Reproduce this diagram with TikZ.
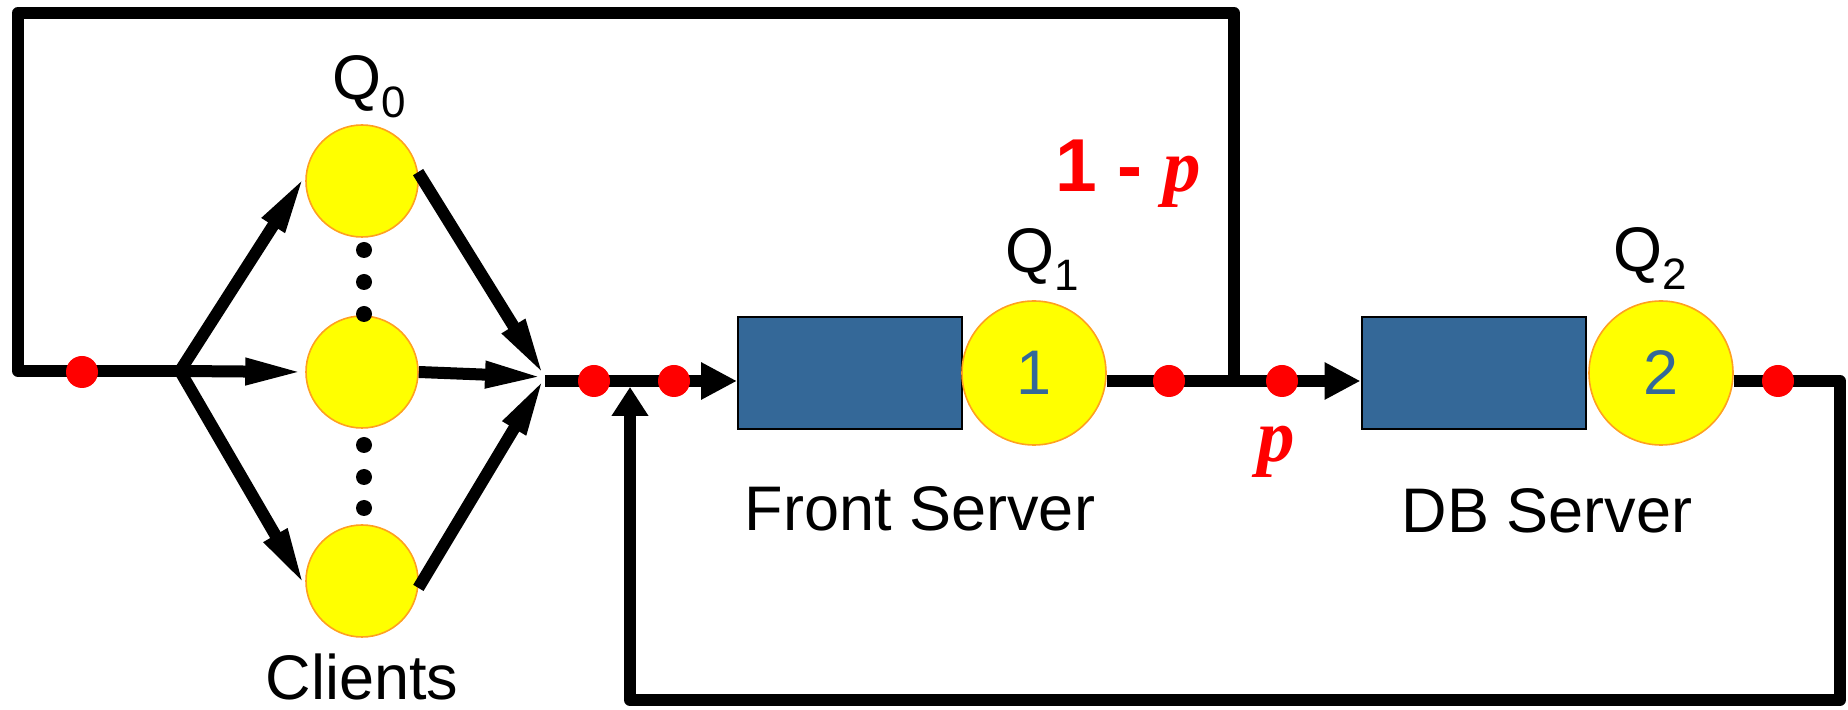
\documentclass[tikz,border=0pt]{standalone}
\usepackage{fontspec}
\setmainfont{Liberation Sans}
\newfontfamily\timesf{Liberation Serif}
\usetikzlibrary{arrows.meta,calc}
\definecolor{qyellow}{HTML}{FFFF00}
\definecolor{qorange}{HTML}{FFA020}
\definecolor{qblue}{HTML}{346898}
\definecolor{qred}{HTML}{FF0000}
\newcommand\qsubs[1]{\raisebox{-9pt}{\fontsize{22}{22}\selectfont #1}}
\begin{document}
\begin{tikzpicture}[x=0.5pt,y=-0.5pt,
  wire/.style={line width=6pt, line join=round},
  carr/.style={wire,-{Triangle[length=30pt,width=12pt]}},
  barr/.style={wire,-{Triangle[length=18pt,width=17.5pt]}},
  uarr/.style={wire,-{Triangle[length=14.5pt,width=17.5pt]}},
  client/.style={circle,fill=qyellow,draw=qorange,line width=0.8pt,minimum size=56pt,inner sep=0pt},
  server/.style={circle,fill=qyellow,draw=qorange,line width=0.8pt,minimum size=72pt,inner sep=0pt,font=\fontsize{31.5}{31.5}\selectfont,text=qblue},
  queue/.style={rectangle,fill=qblue,draw=black,line width=1pt,minimum width=112pt,minimum height=56pt,inner sep=0pt},
  rdot/.style={circle,fill=qred,minimum size=16pt,inner sep=0pt},
  kdot/.style={circle,fill=black,minimum size=8pt,inner sep=0pt},
  lbl/.style={inner sep=0pt,font=\fontsize{31.5}{31.5}\selectfont},
  prob/.style={inner sep=0pt,text=qred,font=\fontsize{37.5}{37.5}\selectfont\bfseries},
]
\useasboundingbox (0,0) rectangle (1848,710);

% nodes
\node[client] (c1) at (362,181) {};
\node[client] (c2) at (362,372) {};
\node[client] (c3) at (362,581) {};
\node[queue] (fs) at (850,373) {};
\node[server] (q1) at (1034,373) {1};
\node[queue] (db) at (1473.5,373) {};
\node[server] (q2) at (1661,373) {2};

% junction points
\coordinate (S) at (180,371);
\coordinate (C) at (545,377);
\coordinate (TL) at (18,13);
\coordinate (TR) at (1234,13);
\coordinate (BL0) at (18,371);
\coordinate (J) at (1234,381);
\coordinate (R) at (1840,381);
\coordinate (BR) at (1840,700);
\coordinate (BL) at (630,700);
\coordinate (FB) at (630,387);

% connectors
\draw[wire] (S) -- (BL0) -- (TL) -- (TR) -- (J);
\draw[carr] (S) -- (c1.174);
\draw[carr] (S) -- (c2.west);
\draw[carr] (S) -- (c3.186);
\draw[carr] (c1.9) -- (C);
\draw[carr] (c2.east) -- (C);
\draw[carr] (c3.353) -- (C);
\draw[barr] (C |- J) -- (fs.west |- J);
\draw[wire] (q1.east |- J) -- (J);
\draw[barr] (J) -- (db.west |- J);
\draw[uarr] (q2.east |- R) -- (R) -- (BR) -- (BL) -- (FB);

% dots
\node[rdot] (d1) at (82,372) {};
\node[rdot] (d2) at (594,381) {};
\node[rdot] (d3) at (674,381) {};
\node[rdot] (d4) at (1169,381) {};
\node[rdot] (d5) at (1282,381) {};
\node[rdot] (d6) at (1778,381) {};
\node[kdot] (k1) at (364,250) {};
\node[kdot] (k2) at (364,282) {};
\node[kdot] (k3) at (364,314) {};
\node[kdot] (k4) at (364,445) {};
\node[kdot] (k5) at (364,477) {};
\node[kdot] (k6) at (364,508) {};

% labels
\node[lbl,anchor=base west] (lq0) at (332,100) {Q\qsubs{0}};
\node[lbl,anchor=base west] (lq1) at (1005,273) {Q\qsubs{1}};
\node[lbl,anchor=base west] (lq2) at (1613,272) {Q\qsubs{2}};
\node[lbl,anchor=base] (lfs) at (920,531) {Front Server};
\node[lbl,anchor=base] (ldb) at (1547,533) {DB Server};
\node[lbl,anchor=base] (lcl) at (362,700) {Clients};
\node[prob,anchor=base west] (pq) at (1055,192) {1 - {\timesf\itshape p}};
\node[prob,anchor=base] (pp) at (1276,462) {\timesf\itshape p};
\end{tikzpicture}
\end{document}
